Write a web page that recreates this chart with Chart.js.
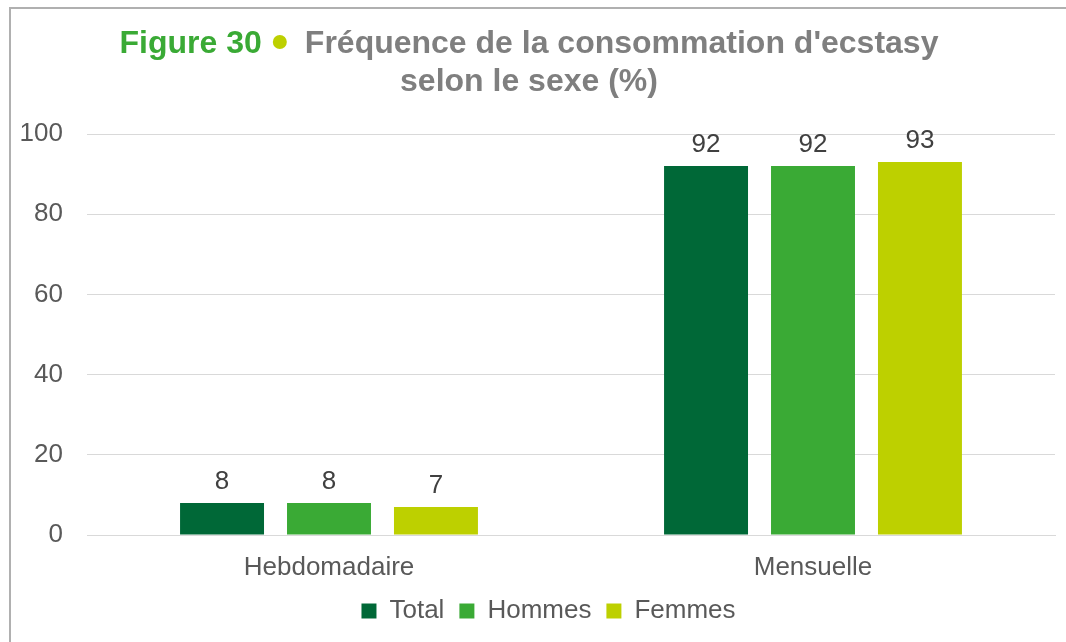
<!DOCTYPE html>
<html>
<head>
<meta charset="utf-8">
<script src="https://cdn.jsdelivr.net/npm/chart.js@4/dist/chart.umd.min.js"></script>
<style>
    html, body { margin: 0; padding: 0; background: #fff; }
    #wrap { width: 1066px; height: 642px; position: relative; }
</style>
</head>
<body>
<div id="wrap"><canvas id="chart"></canvas></div>
<script>
const categories = ['Hebdomadaire', 'Mensuelle'];
const seriesNames = ['Total', 'Hommes', 'Femmes'];
const totalValues = [8, 92];
const hommesValues = [8, 92];
const femmesValues = [7, 93];
const seriesColors = ['#006837', '#3AAA35', '#BDD000'];
const yTicks = [0, 20, 40, 60, 80, 100];

const FONT = '"Liberation Sans", Arial, sans-serif';

// border + title drawn by hand (mixed colours on one line)
const frame = {
    id: 'frame',
    afterLayout(chart) {
        // legend sits a little right of centre in the original
        chart.legend.left += 21;
        chart.legend.right += 21;
    },
    beforeDraw(chart) {
        const ctx = chart.ctx;
        ctx.save();
        ctx.fillStyle = '#B0B0B0';
        ctx.fillRect(9, 7, 2, 642);
        ctx.fillRect(9, 7, 1066, 2);
        ctx.restore();
    },
    afterDraw(chart) {
        const ctx = chart.ctx;
        ctx.save();
        ctx.font = 'bold 32px ' + FONT;
        ctx.textBaseline = 'alphabetic';
        const part1 = 'Figure 30';
        const part2 = "Fréquence de la consommation d'ecstasy";
        const w1 = ctx.measureText(part1).width;
        const w2 = ctx.measureText(part2).width;
        const total = w1 + 11 + 14 + 18 + w2;
        let x = 529 - total / 2;
        ctx.fillStyle = '#3AAA35';
        ctx.textAlign = 'left';
        ctx.fillText(part1, x, 53);
        x += w1 + 11;
        ctx.fillStyle = '#BDD000';
        ctx.beginPath();
        ctx.arc(x + 7, 42, 7, 0, Math.PI * 2);
        ctx.fill();
        x += 14 + 18;
        ctx.fillStyle = '#7F7F7F';
        ctx.fillText(part2, x, 53);
        ctx.textAlign = 'center';
        ctx.fillText('selon le sexe (%)', 529, 91);
        ctx.restore();
    }
};

// value labels above bars
const barLabels = {
    id: 'barLabels',
    afterDatasetsDraw(chart) {
        const ctx = chart.ctx;
        ctx.save();
        ctx.font = '26px ' + FONT;
        ctx.fillStyle = '#404040';
        ctx.textAlign = 'center';
        ctx.textBaseline = 'alphabetic';
        chart.data.datasets.forEach((ds, i) => {
            chart.getDatasetMeta(i).data.forEach((bar, j) => {
                ctx.fillText(String(ds.data[j]), bar.x, bar.y - 14);
            });
        });
        ctx.restore();
    }
};

const ctx = document.getElementById('chart').getContext('2d');
new Chart(ctx, {
    type: 'bar',
    data: {
        labels: categories,
        datasets: [
            { label: seriesNames[0], data: totalValues, backgroundColor: seriesColors[0] },
            { label: seriesNames[1], data: hommesValues, backgroundColor: seriesColors[1] },
            { label: seriesNames[2], data: femmesValues, backgroundColor: seriesColors[2] }
        ]
    },
    options: {
        responsive: true,
        maintainAspectRatio: false,
        animation: false,
        datasets: {
            bar: { categoryPercentage: 0.663, barPercentage: 0.785 }
        },
        layout: { padding: { top: 134, left: 0, right: 11, bottom: 8 } },
        scales: {
            x: {
                grid: { display: false },
                border: { color: '#D9D9D9' },
                ticks: { color: '#595959', font: { family: FONT, size: 26 }, padding: 9 },
                afterFit: s => { s.height = 48; }
            },
            y: {
                min: 0,
                max: 100,
                afterBuildTicks: s => { s.ticks = yTicks.map(v => ({ value: v })); },
                grid: { color: '#D9D9D9', drawTicks: false },
                border: { display: false },
                ticks: { color: '#595959', font: { family: FONT, size: 26 }, padding: 24 },
                afterFit: s => { s.width = 87; }
            }
        },
        plugins: {
            legend: {
                position: 'bottom',
                labels: {
                    color: '#595959',
                    font: { family: FONT, size: 26 },
                    boxWidth: 15,
                    boxHeight: 15,
                    padding: 15
                }
            },
            tooltip: { enabled: false }
        }
    },
    plugins: [frame, barLabels]
});
</script>
</body>
</html>
